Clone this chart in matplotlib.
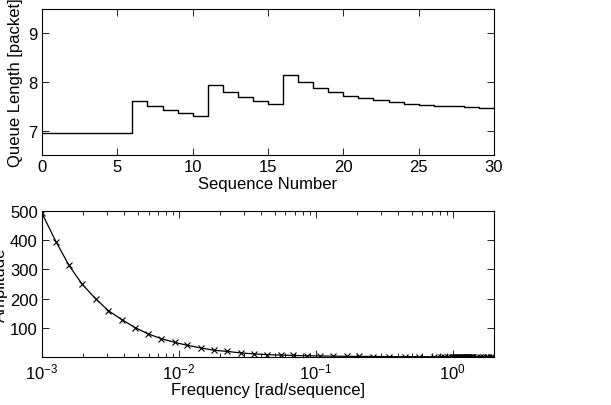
import matplotlib
matplotlib.use("Agg")
import matplotlib.pyplot as plt

plt.rcParams['font.family'] = ['Liberation Sans', 'DejaVu Sans']
plt.rcParams['mathtext.fontset'] = 'custom'
plt.rcParams['mathtext.rm'] = 'Liberation Sans'
plt.rcParams['mathtext.it'] = 'Liberation Sans:italic'

# ---- top panel: queue length per sequence number (step) ----
seq = list(range(0, 31))
queue = [6.96, 6.96, 6.96, 6.96, 6.96, 6.96,
         7.61, 7.51, 7.42, 7.36, 7.31,
         7.93, 7.79, 7.69, 7.60, 7.54,
         8.14, 7.99, 7.88, 7.79, 7.72, 7.67, 7.62, 7.58, 7.55,
         7.53, 7.51, 7.50, 7.48, 7.47, 7.47]
top_xticks = [0, 5, 10, 15, 20, 25, 30]
top_yticks = [7, 8, 9]

# ---- bottom panel: amplitude vs frequency ----
freq = [0.001, 0.001265, 0.001574, 0.001958, 0.00246, 0.003046, 0.003833,
        0.004768, 0.005961, 0.007418, 0.009335, 0.01153, 0.01444, 0.01815,
        0.02258, 0.02828, 0.03535, 0.04377, 0.05536, 0.06842, 0.08568,
        0.1071, 0.1339, 0.1677, 0.2073, 0.2609, 0.3413, 0.4466, 0.5649,
        0.7268, 0.8175, 0.867, 0.919, 0.966,
        1.00, 1.02, 1.04, 1.06, 1.08, 1.10, 1.12, 1.14, 1.16, 1.18, 1.20,
        1.22, 1.24, 1.26, 1.28, 1.30, 1.32, 1.34, 1.36, 1.38, 1.40,
        1.50, 1.58, 1.66, 1.74, 1.82, 1.90, 1.98]
amp = [492, 395, 314, 250, 200, 159, 128,
       101, 79, 63, 50, 40, 31, 23,
       19, 14, 10.5, 8.1, 6.5, 5.3, 4.3,
       3.5, 2.9, 2.4, 2.0, 1.7, 1.4, 1.2, 1.0,
       0.85, 0.80, 0.78, 0.76, 0.74,
       0.73, 0.72, 0.72, 0.71, 0.71, 0.70, 0.70, 0.69, 0.69, 0.68, 0.68,
       0.67, 0.67, 0.66, 0.66, 0.65, 0.65, 0.64, 0.64, 0.63, 0.63,
       0.61, 0.60, 0.59, 0.58, 0.57, 0.56, 0.55]
bot_yticks = [100, 200, 300, 400, 500]

W, H = 611, 406
fig = plt.figure(figsize=(W / 100, H / 100), dpi=100)

def box(x0, y0, x1, y1):
    return [x0 / W, 1 - y1 / H, (x1 - x0) / W, (y1 - y0) / H]

FS = 12

ax1 = fig.add_axes(box(42, 10, 494, 156))
ax1.step(seq, queue, where='post', color='black', lw=1.0)
ax1.set_xlim(0, 30)
ax1.set_ylim(6.5, 9.5)
ax1.set_xticks(top_xticks)
ax1.set_yticks(top_yticks)
ax1.set_xlabel('Sequence Number', fontsize=FS, labelpad=1)
ax1.set_ylabel('Queue Length [packet]', fontsize=FS)
ax1.yaxis.set_label_coords(-0.042, 0.5)

ax2 = fig.add_axes(box(42, 212, 494, 358))
ax2.plot(freq, amp, color='black', lw=0.9, marker='x', markersize=4,
         markeredgewidth=0.8)
ax2.set_xscale('log')
ax2.set_xlim(0.001, 2)
ax2.set_ylim(0, 500)
ax2.set_yticks(bot_yticks)
ax2.set_xlabel('Frequency [rad/sequence]', fontsize=FS, labelpad=1)
ax2.set_ylabel('Amplitude', fontsize=FS)
ax2.yaxis.set_label_coords(-0.075, 0.5)

for ax in (ax1, ax2):
    ax.tick_params(which='both', direction='in', top=True, right=True,
                   labelsize=FS, width=0.6, pad=3)
    ax.tick_params(which='major', length=5)
    ax.tick_params(which='minor', length=3)
    for s in ax.spines.values():
        s.set_linewidth(0.8)
ax1.tick_params(which='minor', bottom=False, top=False, left=False, right=False)
ax2.tick_params(axis='y', which='minor', left=False, right=False)

fig.savefig('out.png', dpi=100)
